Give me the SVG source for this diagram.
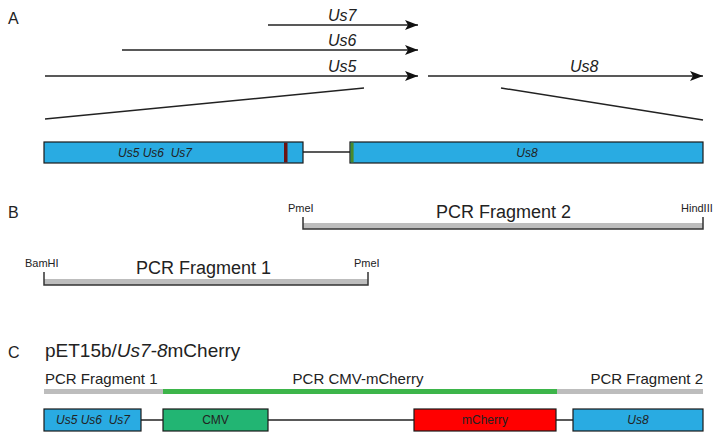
<svg xmlns="http://www.w3.org/2000/svg" width="715" height="440" viewBox="0 0 715 440">
<defs>
<marker id="ah" markerWidth="13" markerHeight="10" refX="13" refY="5" orient="auto" markerUnits="userSpaceOnUse"><path d="M0,0 L13,5 L0,10 L3,5 Z" fill="#111"/></marker>
<style>
text{font-family:"Liberation Sans",Arial,sans-serif;fill:#222}
.lbl{font-size:16px}
.title{font-size:19px}
.gene{font-size:16px;font-style:italic}
.small{font-size:11px}
.big{font-size:18px}
.mid{font-size:15px}
.box{stroke:#1a1a1a;stroke-width:1.2}
.blue{fill:#29abe2}
.ln{stroke:#222;stroke-width:1.5;fill:none}
.bx{font-size:12px;text-anchor:middle}
.it{font-style:italic}
.brg{fill:#bdbdbd}
.brk{stroke:#333;stroke-width:1.5;fill:none}
</style>
</defs>
<text class="lbl" x="8" y="24">A</text>
<text class="lbl" x="8" y="218">B</text>
<text class="lbl" x="8" y="358">C</text>
<g id="connectors">
<line class="ln" x1="268" y1="25" x2="418" y2="25" marker-end="url(#ah)"/>
<line class="ln" x1="122" y1="50" x2="418" y2="50" marker-end="url(#ah)"/>
<line class="ln" x1="45" y1="76" x2="418" y2="76" marker-end="url(#ah)"/>
<line class="ln" x1="428" y1="76" x2="703" y2="76" marker-end="url(#ah)"/>
<line class="ln" x1="45" y1="119" x2="364" y2="88"/>
<line class="ln" x1="501" y1="88" x2="703" y2="120"/>
<line class="ln" x1="303" y1="152" x2="350" y2="152" stroke-width="1.2"/>
<line class="ln" x1="141" y1="420" x2="163" y2="420" stroke-width="1.2"/>
<line class="ln" x1="268" y1="420" x2="414" y2="420" stroke-width="1.2"/>
<line class="ln" x1="556" y1="420" x2="573" y2="420" stroke-width="1.2"/>
</g>
<text class="gene" x="328" y="21">Us7</text>
<text class="gene" x="328" y="46">Us6</text>
<text class="gene" x="328" y="72">Us5</text>
<text class="gene" x="570" y="72">Us8</text>
<g id="geneA1">
<rect class="box blue" x="44" y="142" width="259" height="21"/>
<rect x="284" y="142.6" width="3.5" height="19.8" fill="#6b1414"/>
<text class="bx it" x="155" y="157">Us5 Us6&#160; Us7</text>
</g>
<g id="geneA2">
<rect class="box blue" x="350" y="142" width="353" height="21"/>
<rect x="350.6" y="142.6" width="3" height="19.8" fill="#4a8a2a"/>
<text class="bx it" x="527" y="157">Us8</text>
</g>
<g id="frag2">
<rect class="brg" x="303" y="223" width="400" height="6"/>
<path class="brk" d="M303,217 V229 H703 V217"/>
<text class="small" x="288" y="212">PmeI</text>
<text class="big" x="436" y="218">PCR Fragment 2</text>
<text class="small" x="681" y="212">HindIII</text>
</g>
<g id="frag1">
<rect class="brg" x="44" y="279" width="324" height="6"/>
<path class="brk" d="M44,272 V285 H368 V272"/>
<text class="small" x="25" y="267">BamHI</text>
<text class="big" x="136" y="274">PCR Fragment 1</text>
<text class="small" x="354" y="267">PmeI</text>
</g>
<text class="title" x="45" y="357">pET15b/<tspan font-style="italic">Us7</tspan>-<tspan font-style="italic">8</tspan>mCherry</text>
<g id="bars">
<rect x="44" y="389" width="119" height="5" fill="#bdbdbd"/>
<rect x="163" y="389" width="394" height="5" fill="#3db54a"/>
<rect x="557" y="389" width="146" height="5" fill="#bdbdbd"/>
<text class="mid" x="45" y="384">PCR Fragment 1</text>
<text class="mid" x="358" y="384" text-anchor="middle">PCR CMV-mCherry</text>
<text class="mid" x="703" y="384" text-anchor="end">PCR Fragment 2</text>
</g>
<g id="us567">
<rect class="box blue" x="44" y="409" width="97" height="22"/>
<text class="bx it" x="93" y="424">Us5 Us6&#160; Us7</text>
</g>
<g id="cmv">
<rect class="box" x="163" y="409" width="105" height="22" fill="#22b573"/>
<text class="bx" x="215.5" y="424">CMV</text>
</g>
<g id="mcherry">
<rect class="box" x="414" y="409" width="142" height="22" fill="#ff0000"/>
<text class="bx" x="485" y="424">mCherry</text>
</g>
<g id="us8">
<rect class="box blue" x="573" y="409" width="130" height="22"/>
<text class="bx it" x="638" y="424">Us8</text>
</g>
</svg>
